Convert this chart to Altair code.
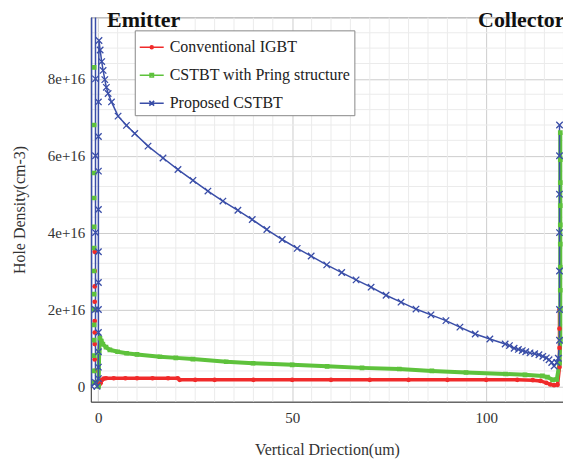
import altair as alt
import pandas as pd

SERIES = ["Conventional IGBT", "CSTBT with Pring structure", "Proposed CSTBT"]
COLORS = ["#f02a2a", "#5ec23c", "#3a4ea8"]

# Hole density values in units of 1e16 cm^-3, x in um
# emitter-side samples (shown as markers only)
red_left_x = [-0.9, -0.9, -0.9, -0.9, -0.9, -0.9, -0.9, -0.9, -0.9, -0.9, -0.9]
red_left_y = [3.5, 3.0, 2.6, 2.2, 2.0, 1.7, 1.4, 1.1, 0.7, 0.4, 0.1]
green_left_x = [-1.05, -1.05, -1.05, -1.05, -1.05, -1.05, -1.05, -1.05, -1.05, -1.05,
                -1.05, -1.05, -1.05, -1.05]
green_left_y = [8.3, 6.8, 5.55, 4.9, 4.15, 3.6, 3.0, 2.4, 2.0, 1.6, 1.2, 0.8, 0.4, 0.1]

red_x = [0.2, 0.6, 1.0, 1.4, 2.0, 4.0, 7.0, 10.0, 14.0, 18.0, 20.5, 21.0, 25.0, 30.0,
         40.0, 50.0, 60.0, 70.0, 80.0, 90.0, 100.0, 108.0, 112.0, 114.0, 115.5, 116.5,
         117.5, 118.4, 118.9, 118.9, 118.9, 118.9]
red_y = [0.03, 0.08, 0.17, 0.2, 0.21, 0.21, 0.21, 0.21, 0.21, 0.21, 0.21, 0.17, 0.17, 0.17,
         0.17, 0.17, 0.17, 0.17, 0.17, 0.17, 0.17, 0.17, 0.16, 0.14, 0.09, 0.05,
         0.03, 0.04, 0.5, 1.0, 1.5, 2.0]

green_x = [0.1, 0.25, 0.45, 0.8, 1.2, 2.0, 3.0, 5.0, 7.3, 10.0,
           15.9, 20.0, 24.4, 33.0, 39.9, 50.0, 59.0, 68.0, 77.6, 86.0, 94.8, 105.0, 110.0,
           114.5, 115.8, 117.1, 118.2, 118.9, 119.1, 119.1, 119.1, 119.1, 119.1, 119.1,
           119.1, 119.1, 119.1, 119.1]
green_y = [0.0, 0.9, 1.25, 1.18, 1.1, 1.02, 0.95, 0.9, 0.86, 0.83,
           0.77, 0.74, 0.71, 0.64, 0.60, 0.56, 0.52, 0.48, 0.45, 0.40, 0.36, 0.32, 0.30,
           0.27, 0.24, 0.17, 0.18, 0.6, 1.2, 2.0, 2.5, 3.1, 3.7, 4.2, 4.7, 5.3, 5.9, 6.6]

blue_x = [-1.7, -1.7, -0.7, -0.7, -0.7, -0.7, -0.7, -0.7, -0.3, 0.05, 0.05, 0.05, 0.05,
          0.05, 0.05, 0.05, 0.05, 0.05, 0.05, 0.05, 0.2, 0.5, 0.9, 1.26, 1.7, 2.1, 2.55,
          3.42, 5.12, 7.28, 9.42, 12.84, 16.70, 20.56, 24.42, 28.28, 32.14, 36.0, 39.7,
          43.46, 47.43, 51.29, 54.89, 58.90, 62.76, 66.47, 70.33, 74.19, 78.05, 81.91,
          85.77, 89.63, 93.23, 97.17, 100.95, 104.89, 106.0, 107.2, 108.3, 109.3, 110.2,
          111.3, 112.5, 113.6, 114.6, 115.5, 116.2, 116.9, 117.5, 118.2, 118.6, 118.9,
          118.9, 118.9, 118.9, 118.9, 118.9, 118.9]
blue_y = [0.0, 9.9, 9.9, 8.0, 6.0, 4.0, 2.0, 0.1, 0.0, 0.2, 0.5, 0.9, 1.4, 2.0, 2.7, 3.5,
          4.6, 5.6, 6.5, 7.4, 9.0, 8.75, 8.45, 8.22, 7.98, 7.78, 7.62,
          7.40, 7.03, 6.79, 6.58, 6.25, 5.94, 5.64, 5.36, 5.08, 4.82, 4.58, 4.34,
          4.08, 3.82, 3.59, 3.39, 3.16, 2.96, 2.77, 2.58, 2.37, 2.19, 2.01,
          1.86, 1.71, 1.54, 1.36, 1.23, 1.10, 1.06, 0.99, 0.96, 0.93, 0.90,
          0.87, 0.85, 0.82, 0.78, 0.74, 0.69, 0.62, 0.53, 0.62, 0.73, 1.2,
          2.0, 3.0, 4.0, 5.0, 6.0, 6.8]

x_major = [0, 50, 100]
x_minor = [5, 10, 15, 20, 25, 30, 35, 40, 45, 55, 60, 65, 70, 75, 80, 85, 90, 95,
           105, 110, 115]
y_major = [0, 2e16, 4e16, 6e16, 8e16]
y_minor = [0.4e16, 0.8e16, 1.2e16, 1.6e16, 2.4e16, 2.8e16, 3.2e16, 3.6e16, 4.4e16,
           4.8e16, 5.2e16, 5.6e16, 6.4e16, 6.8e16, 7.2e16, 7.6e16, 8.4e16, 8.8e16, 9.2e16]

annot_text = ["Emitter", "Collector"]
annot_x = [11.7, 97.9]
annot_y = [9.34, 9.34]

SERIF = "Liberation Serif"

rows = []
for name, xs, ys, seg in [
    (SERIES[0], red_left_x, red_left_y, "left"), (SERIES[0], red_x, red_y, "main"),
    (SERIES[1], green_left_x, green_left_y, "left"), (SERIES[1], green_x, green_y, "main"),
    (SERIES[2], blue_x, blue_y, "main"),
]:
    for i, (a, b) in enumerate(zip(xs, ys)):
        rows.append({"series": name, "seg": seg, "x": a, "y": b * 1e16, "idx": i})
df = pd.DataFrame(rows)

ann = pd.DataFrame({"text": annot_text, "x": annot_x, "y": [v * 1e16 for v in annot_y]})

xscale = alt.Scale(domain=[-1.9, 119.8], nice=False, zero=False)
yscale = alt.Scale(domain=[-0.4e16, 9.6e16], nice=False, zero=False)

x_axis = alt.Axis(
    values=x_major, title="Vertical Driection(um)", format="d",
    gridColor="#cdcdcd", ticks=False, labelPadding=9, labelFont=SERIF, labelFontSize=15,
    labelColor="#333", titleFont=SERIF, titleFontSize=16, titleFontWeight="normal",
    titleColor="#333", titlePadding=16, domainColor="#444", labelOverlap=False,
    labelBound=False,
)
y_axis = alt.Axis(
    values=y_major, title="Hole Density(cm-3)",
    labelExpr="datum.value == 0 ? '0' : round(datum.value/1e16) + 'e+16'",
    gridColor="#cdcdcd", ticks=False, labelPadding=6, labelFont=SERIF, labelFontSize=15,
    labelColor="#333", titleFont=SERIF, titleFontSize=16, titleFontWeight="normal",
    titleColor="#333", titlePadding=20, domainColor="#444", labelOverlap=False,
    labelBound=False,
)

xminor_layer = alt.Chart(pd.DataFrame({"v": x_minor})).mark_rule(
    color="#ebebeb", strokeWidth=1, clip=True).encode(x=alt.X("v:Q", scale=xscale, axis=x_axis))
yminor_layer = alt.Chart(pd.DataFrame({"v": y_minor})).mark_rule(
    color="#ebebeb", strokeWidth=1, clip=True).encode(y=alt.Y("v:Q", scale=yscale, axis=y_axis))

base = alt.Chart(df).encode(
    x=alt.X("x:Q", scale=xscale, axis=x_axis),
    y=alt.Y("y:Q", scale=yscale, axis=y_axis),
    order="idx:Q",
)

marker_shapes = ["circle", "square", "M-1,-1L1,1M-1,1L1,-1"]
line_widths = [3.5, 4.0, 1.5]
layers = [xminor_layer, yminor_layer]
for name, col, lw in zip(SERIES, COLORS, line_widths):
    sub = base.transform_filter((alt.datum.series == name) & (alt.datum.seg == "main"))
    layers.append(sub.mark_line(color=col, strokeWidth=lw, clip=True))
for name, col, shp in zip(SERIES, COLORS, marker_shapes):
    sub = base.transform_filter(alt.datum.series == name)
    if shp.startswith("M"):
        layers.append(sub.mark_point(shape=shp, color=col, filled=False, size=42,
                                     strokeWidth=1.3, opacity=1, clip=True))
    else:
        layers.append(sub.mark_point(shape=shp, color=col, filled=True, size=22,
                                     opacity=1, clip=True))

legend_shapes = [
    "M-1,0L1,0M-0.12,0a0.12,0.12 0 1,0 0.24,0a0.12,0.12 0 1,0 -0.24,0",
    "M-1,0L1,0M-0.14,-0.14h0.28v0.28h-0.28z",
    "M-1,0L1,0M-0.2,-0.2L0.2,0.2M-0.2,0.2L0.2,-0.2",
]
leg = alt.Legend(
    title=None, orient="none", legendX=44, legendY=13, fillColor="white",
    strokeColor="#888", padding=4, symbolSize=576, symbolStrokeWidth=1.6,
    symbolOpacity=1, labelFont=SERIF, labelFontSize=16, labelColor="#222",
    labelOffset=5, rowPadding=7, labelLimit=400,
)
legend_df = pd.DataFrame({"series": SERIES, "x": [-500, -500, -500], "y": [0, 0, 0]})
legend_layer = alt.Chart(legend_df).mark_point(filled=False, size=576, clip=True).encode(
    x=alt.X("x:Q", scale=xscale),
    y=alt.Y("y:Q", scale=yscale),
    color=alt.Color("series:N", scale=alt.Scale(domain=SERIES, range=COLORS), legend=leg),
    shape=alt.Shape("series:N", scale=alt.Scale(domain=SERIES, range=legend_shapes), legend=leg),
)

text_emitter = alt.Chart(ann[ann.text == "Emitter"]).mark_text(
    font=SERIF, fontSize=22, fontWeight="bold", color="#111", baseline="alphabetic", align="center"
).encode(x=alt.X("x:Q", scale=xscale), y=alt.Y("y:Q", scale=yscale), text="text:N")
text_collector = alt.Chart(ann[ann.text == "Collector"]).mark_text(
    font=SERIF, fontSize=22, fontWeight="bold", color="#111", baseline="alphabetic", align="left"
).encode(x=alt.X("x:Q", scale=xscale), y=alt.Y("y:Q", scale=yscale), text="text:N")

chart = alt.layer(*layers, legend_layer, text_emitter, text_collector).properties(
    width=473, height=385,
    autosize=alt.AutoSizeParams(type="none"),
    padding={"left": 91, "top": 17, "right": 0, "bottom": 57},
    background="white",
).configure_view(stroke="#9a9a9a", strokeWidth=1)

chart.save("out.html", embed_options={"renderer": "svg", "actions": False})
